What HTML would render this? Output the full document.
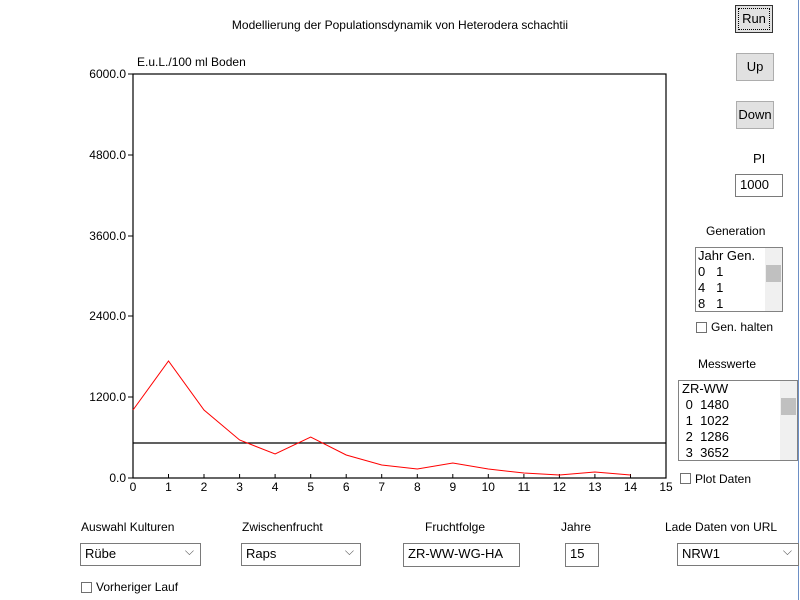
<!DOCTYPE html>
<html><head><style>
body{margin:0;width:800px;height:600px;background:#fff;position:relative;overflow:hidden;font-family:"Liberation Sans",Arial,sans-serif;font-size:12px;color:#000}
.a{position:absolute}
.btn{position:absolute;width:38px;height:28px;background:#e1e1e1;border:1px solid #adadad;box-sizing:border-box;text-align:center;line-height:26px;font-size:13px}
.inp{position:absolute;border:1px solid #7a7a7a;background:#fff;box-sizing:border-box;font-size:13px;line-height:20px;padding-left:4px}
.lst{position:absolute;border:1px solid #828282;background:#fff;box-sizing:border-box;font-size:13px;line-height:16px;padding-left:2px}
.sb{position:absolute;right:0;top:0;width:17px;height:100%;background:#f0f0f0}
.cb{position:absolute;width:11px;height:11px;border:1px solid #707070;background:#fff;box-sizing:border-box}
.dd:after{content:"⌵";position:absolute;right:6px;top:-3px;font-size:12px;color:#555}
</style></head><body>
<div class="a" style="left:0;top:18px;width:800px;text-align:center;font-size:12px">Modellierung der Populationsdynamik von Heterodera schachtii</div>
<div class="a" style="left:137px;top:55px;font-size:12px">E.u.L./100 ml Boden</div>
<svg class="a" style="left:0;top:0" width="800" height="600">
<g font-family="Liberation Sans,Arial,sans-serif" font-size="12" text-anchor="end">
<rect x="133" y="74" width="533" height="404" fill="none" stroke="#000" stroke-width="1.2"/>
<g stroke="#000">
<line x1="128" y1="74" x2="133" y2="74"/><line x1="128" y1="155" x2="133" y2="155"/><line x1="128" y1="236" x2="133" y2="236"/><line x1="128" y1="316" x2="133" y2="316"/><line x1="128" y1="397" x2="133" y2="397"/><line x1="128" y1="478" x2="133" y2="478"/>
</g>
<text x="126" y="78">6000.0</text><text x="126" y="159">4800.0</text><text x="126" y="240">3600.0</text><text x="126" y="320">2400.0</text><text x="126" y="401">1200.0</text><text x="126" y="482">0.0</text>
<g stroke="#000" id="tk"></g>
<g text-anchor="middle">
<text x="133" y="491">0</text><text x="168.5" y="491">1</text><text x="204" y="491">2</text><text x="239.6" y="491">3</text><text x="275.1" y="491">4</text><text x="310.7" y="491">5</text><text x="346.2" y="491">6</text><text x="381.7" y="491">7</text><text x="417.3" y="491">8</text><text x="452.8" y="491">9</text><text x="488.3" y="491">10</text><text x="523.9" y="491">11</text><text x="559.4" y="491">12</text><text x="594.9" y="491">13</text><text x="630.5" y="491">14</text><text x="666" y="491">15</text>
</g>
<g stroke="#000">
<line x1="168.5" y1="474" x2="168.5" y2="478"/><line x1="204" y1="474" x2="204" y2="478"/><line x1="239.6" y1="474" x2="239.6" y2="478"/><line x1="275.1" y1="474" x2="275.1" y2="478"/><line x1="310.7" y1="474" x2="310.7" y2="478"/><line x1="346.2" y1="474" x2="346.2" y2="478"/><line x1="381.7" y1="474" x2="381.7" y2="478"/><line x1="417.3" y1="474" x2="417.3" y2="478"/><line x1="452.8" y1="474" x2="452.8" y2="478"/><line x1="488.3" y1="474" x2="488.3" y2="478"/><line x1="523.9" y1="474" x2="523.9" y2="478"/><line x1="559.4" y1="474" x2="559.4" y2="478"/><line x1="594.9" y1="474" x2="594.9" y2="478"/><line x1="630.5" y1="474" x2="630.5" y2="478"/>
</g>
<line x1="133" y1="443" x2="666" y2="443" stroke="#000" stroke-width="1.2"/>
<polyline fill="none" stroke="#f00" stroke-width="1" points="133,410 168.5,361 204,410 239.6,440 275.1,454 310.7,437 346.2,455 381.7,465 417.3,469 452.8,463 488.3,469 523.9,473 559.4,475 594.9,472 630.5,475"/>
</g>
<line x1="798.5" y1="0" x2="798.5" y2="600" stroke="#6d8fc5" stroke-width="1"/>
</svg>
<div class="btn" style="left:735px;top:5px;border:1px solid #333;outline:1px dotted #000;outline-offset:-4px">Run</div>
<div class="btn" style="left:736px;top:53px">Up</div>
<div class="btn" style="left:736px;top:101px">Down</div>
<div class="a" style="left:753px;top:151px;font-size:13px">PI</div>
<div class="inp" style="left:735px;top:174px;width:48px;height:23px">1000</div>
<div class="a" style="left:706px;top:224px;font-size:12px">Generation</div>
<div class="lst" style="left:695px;top:247px;width:88px;height:65px">Jahr Gen.<br>0&nbsp;&nbsp;&nbsp;1<br>4&nbsp;&nbsp;&nbsp;1<br>8&nbsp;&nbsp;&nbsp;1<div class="sb"><div style="position:absolute;top:17px;left:1px;width:15px;height:17px;background:#c0c0c0"></div></div></div>
<div class="cb" style="left:696px;top:322px"></div><div class="a" style="left:711px;top:320px">Gen. halten</div>
<div class="a" style="left:698px;top:357px">Messwerte</div>
<div class="lst" style="left:678px;top:380px;width:120px;height:81px;padding-left:3px">ZR-WW<br>&nbsp;0&nbsp;&nbsp;1480<br>&nbsp;1&nbsp;&nbsp;1022<br>&nbsp;2&nbsp;&nbsp;1286<br>&nbsp;3&nbsp;&nbsp;3652<div class="sb"><div style="position:absolute;top:17px;left:1px;width:15px;height:17px;background:#c0c0c0"></div></div></div>
<div class="cb" style="left:680px;top:473px"></div><div class="a" style="left:695px;top:472px">Plot Daten</div>
<div class="a" style="left:81px;top:520px">Auswahl Kulturen</div>
<div class="a" style="left:242px;top:520px">Zwischenfrucht</div>
<div class="a" style="left:425px;top:520px">Fruchtfolge</div>
<div class="a" style="left:561px;top:520px">Jahre</div>
<div class="a" style="left:665px;top:520px">Lade Daten von URL</div>
<div class="inp dd" style="left:80px;top:543px;width:121px;height:23px">Rübe</div>
<div class="inp dd" style="left:241px;top:543px;width:120px;height:23px">Raps</div>
<div class="inp" style="left:403px;top:543px;width:117px;height:24px">ZR-WW-WG-HA</div>
<div class="inp" style="left:565px;top:543px;width:34px;height:24px">15</div>
<div class="inp dd" style="left:677px;top:543px;width:122px;height:23px">NRW1</div>
<div class="cb" style="left:81px;top:582px"></div><div class="a" style="left:96px;top:580px">Vorheriger Lauf</div>
</body></html>
